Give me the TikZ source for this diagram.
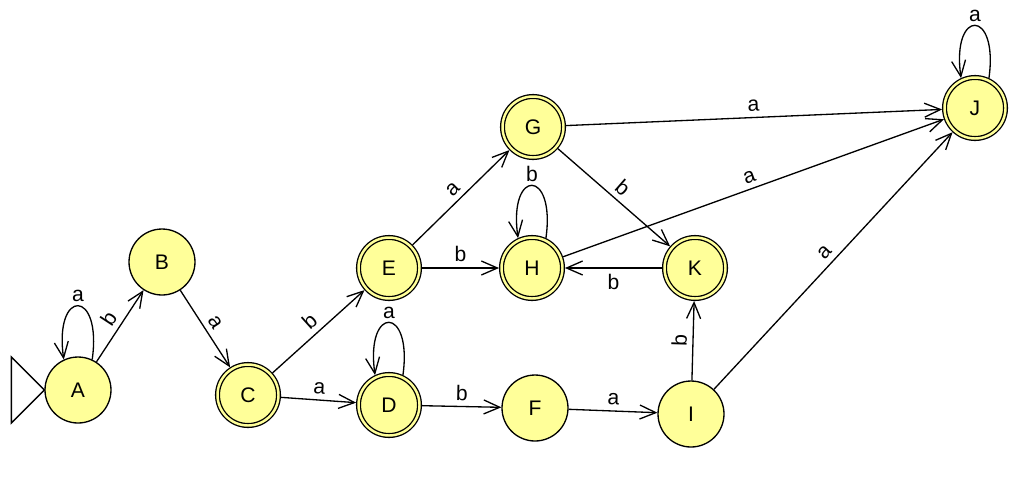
\documentclass[tikz,border=0pt]{standalone}
\usepackage{fontspec}
\setmainfont{Liberation Sans}
\usetikzlibrary{arrows.meta}
\definecolor{stfill}{RGB}{255,255,153}
\tikzset{
  stnode/.style={circle, draw, line width=0.75pt, fill=stfill, minimum size=1.32cm, inner sep=0pt, font=\fontsize{12}{14}\selectfont},
  accnode/.style={stnode, minimum size=1.22cm, double=stfill, double distance=1.4pt, outer sep=0.05cm},
  arr/.style={-{Straight Barb[length=3.2mm,width=2.8mm]}, line width=0.75pt},
  lbl/.style={midway, sloped, inner sep=3pt, font=\fontsize{12}{14}\selectfont},
  looplbl/.style={above, inner sep=2pt, font=\fontsize{12}{14}\selectfont}
}

\begin{document}
\begin{tikzpicture}[x=0.02cm, y=-0.02cm]
			%%%%% START %%%%%
			\useasboundingbox (0, 0) rectangle (1024, 491);
			
			\node[stnode]  (A) at (78, 390)  {A};
			\node[stnode]  (B) at (162, 262) {B};
			\node[accnode] (C) at (248, 395) {C};
			\node[accnode] (D) at (389, 405) {D};
			\node[accnode] (E) at (389, 268) {E};
			\node[stnode]  (F) at (535, 408) {F};
			\node[accnode] (G) at (533, 127) {G};
			\node[accnode] (H) at (532, 268) {H};
			\node[stnode]  (I) at (691, 414) {I};
			\node[accnode] (J) at (975, 108) {J};
			\node[accnode] (K) at (695, 268) {K};
			
			% start marker
			\draw[line width=0.75pt, fill=white] (A.west) -- ++(-33, -33) -- ++(0, 66) -- cycle;
			
			% loops
			\draw[arr] (A.65) to[out=82, in=98, looseness=6.5] node[looplbl] {a} (A.115);
			\draw[arr] (D.65) to[out=82, in=98, looseness=6.5] node[looplbl] {a} (D.115);
			\draw[arr] (H.65) to[out=82, in=98, looseness=6.5] node[looplbl] {b} (H.115);
			\draw[arr] (J.65) to[out=82, in=98, looseness=6.5] node[looplbl] {a} (J.115);
			
			% transitions
			\draw[arr] (A) -- node[lbl, above] {b} (B);
			\draw[arr] (B) -- node[lbl, above] {a} (C);
			\draw[arr] (C) -- node[lbl, above] {b} (E);
			\draw[arr] (C) -- node[lbl, above] {a} (D);
			\draw[arr] (D) -- node[lbl, above] {b} (F);
			\draw[arr] (F) -- node[lbl, above] {a} (I);
			\draw[arr] (E) -- node[lbl, above] {a} (G);
			\draw[arr] (E) -- node[lbl, above] {b} (H);
			\draw[arr] (G) -- node[lbl, above] {a} (J);
			\draw[arr] (G) -- node[lbl, above] {b} (K);
			\draw[arr] (H) -- node[lbl, above] {a} (J);
			\draw[arr] (K) -- node[lbl, below] {b} (H);
			\draw[arr] (I) -- node[lbl, above] {b} (K);
			\draw[arr] (I) -- node[lbl, above] {a} (J);
			
			%%%%% END %%%%%
\end{tikzpicture}
\end{document}
